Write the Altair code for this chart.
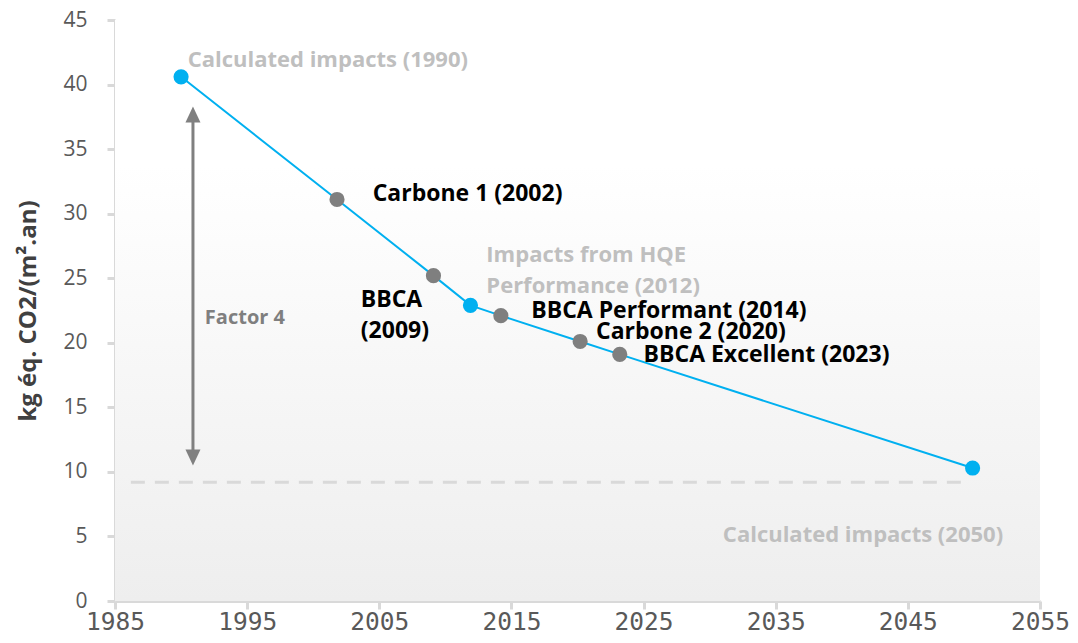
import altair as alt
import pandas as pd

# Series
years = [1990, 2001.8, 2009.1, 2011.9, 2014.2, 2020.2, 2023.2, 2049.9]
values = [40.6, 31.1, 25.2, 22.9, 22.1, 20.1, 19.1, 10.3]
kinds = ["calc", "label", "label", "calc", "label", "label", "label", "calc"]

# Factor-4 target line
target_x = [1986.2, 2049.5]
target_y = 9.2

# Factor 4 arrow
arrow_x = 1990.9
arrow_top = 38.3
arrow_bottom = 10.5

# Annotations
ann_text = ["Calculated impacts (1990)", "Carbone 1 (2002)", "Impacts from HQE",
            "Performance (2012)", "BBCA", "(2009)", "BBCA Performant (2014)",
            "Carbone 2 (2020)", "BBCA Excellent (2023)", "Calculated impacts (2050)",
            "Factor 4"]
ann_x = [1990.5, 2004.5, 2013.1, 2013.1, 2003.6, 2003.6, 2016.5, 2021.4, 2025.0, 2031.0, 1991.8]
ann_y = [41.9, 31.5, 26.8, 24.4, 23.3, 20.9, 22.5, 20.8, 19.05, 5.1, 21.9]
ann_kind = ["grey", "black", "grey", "grey", "black", "black", "black", "black", "black", "grey", "mid"]

W, H = 925, 581
x_scale = alt.Scale(domain=[1985, 2055], nice=False, zero=False)
y_scale = alt.Scale(domain=[0, 45], nice=False)

pts = pd.DataFrame({"year": years, "value": values, "kind": kinds})
pts["color"] = pts["kind"].map({"calc": "#00b0f0", "label": "#7f7f7f"})

bg = alt.Chart(alt.Data(values=[{}])).mark_rect(
    fill=alt.LinearGradient(
        gradient="linear",
        stops=[alt.GradientStop(color="#ffffff", offset=0),
               alt.GradientStop(color="#ffffff", offset=0.25),
               alt.GradientStop(color="#eeeeee", offset=1)],
        x1=0, x2=0, y1=0, y2=1),
).encode(x=alt.value(0), x2=alt.value(W), y=alt.value(0), y2=alt.value(H))

xaxis = alt.Axis(values=list(range(1985, 2056, 10)), format="d", title=None,
                 labelFont="DejaVu Sans Mono", labelFontSize=24.5, labelColor="#595959",
                 labelPadding=1, labelFlush=False)
yaxis = alt.Axis(values=list(range(0, 46, 5)), title="kg éq. CO2/(m².an)",
                 labelFont="Open Sans", labelFontSize=21, labelColor="#595959",
                 labelPadding=20, titleFont="Open Sans", titleFontSize=24,
                 titleFontWeight="bold", titleColor="#404040", titlePadding=22)

target = alt.Chart(pd.DataFrame({"x": [target_x[0]], "x2": [target_x[1]], "y": [target_y]})).mark_rule(
    color="#d9d9d9", strokeWidth=3, strokeDash=[14, 10]
).encode(x=alt.X("x:Q", scale=x_scale, axis=xaxis), x2="x2:Q",
         y=alt.Y("y:Q", scale=y_scale, axis=yaxis))

shaft = alt.Chart(pd.DataFrame({"x": [arrow_x], "y": [arrow_top - 1.0], "y2": [arrow_bottom + 1.0]})).mark_rule(
    color="#808080", strokeWidth=3
).encode(x=alt.X("x:Q", scale=x_scale), y=alt.Y("y:Q", scale=y_scale), y2="y2:Q")

heads = alt.Chart(pd.DataFrame({"x": [arrow_x, arrow_x], "y": [arrow_top, arrow_bottom],
                                "shape": ["M0,0L0.75,1.6L-0.75,1.6Z", "M0,0L0.75,-1.6L-0.75,-1.6Z"]})).mark_point(
    filled=True, opacity=1, color="#808080", size=400, strokeWidth=0
).encode(x=alt.X("x:Q", scale=x_scale), y=alt.Y("y:Q", scale=y_scale),
         shape=alt.Shape("shape:N", scale=None))

line = alt.Chart(pts).mark_line(color="#00b0f0", strokeWidth=2).encode(
    x=alt.X("year:Q", scale=x_scale), y=alt.Y("value:Q", scale=y_scale))

dots = alt.Chart(pts).mark_circle(size=230, opacity=1).encode(
    x=alt.X("year:Q", scale=x_scale), y=alt.Y("value:Q", scale=y_scale),
    color=alt.Color("color:N", scale=None))

ann = pd.DataFrame({"text": ann_text, "x": ann_x, "y": ann_y, "kind": ann_kind})
ann["color"] = ann["kind"].map({"grey": "#bfbfbf", "black": "#000000", "mid": "#7f7f7f"})
ann["size"] = ann["kind"].map({"grey": 22, "black": 23, "mid": 20})
labels = alt.Chart(ann).mark_text(
    align="left", baseline="middle", font="Open Sans", fontWeight="bold"
).encode(x=alt.X("x:Q", scale=x_scale), y=alt.Y("y:Q", scale=y_scale),
         text="text:N", color=alt.Color("color:N", scale=None),
         size=alt.Size("size:Q", scale=None))

chart = alt.layer(bg, target, shaft, heads, line, dots, labels).properties(
    width=W, height=H,
    autosize=alt.AutoSizeParams(type="none"),
    padding={"left": 107, "top": 12, "right": 30, "bottom": 34},
).configure_view(stroke=None).configure_axis(
    grid=False, domainColor="#d9d9d9", domainWidth=3, tickColor="#d9d9d9",
    tickWidth=3, tickSize=8
)

chart.save("out.html", embed_options={"renderer": "svg", "actions": False})
